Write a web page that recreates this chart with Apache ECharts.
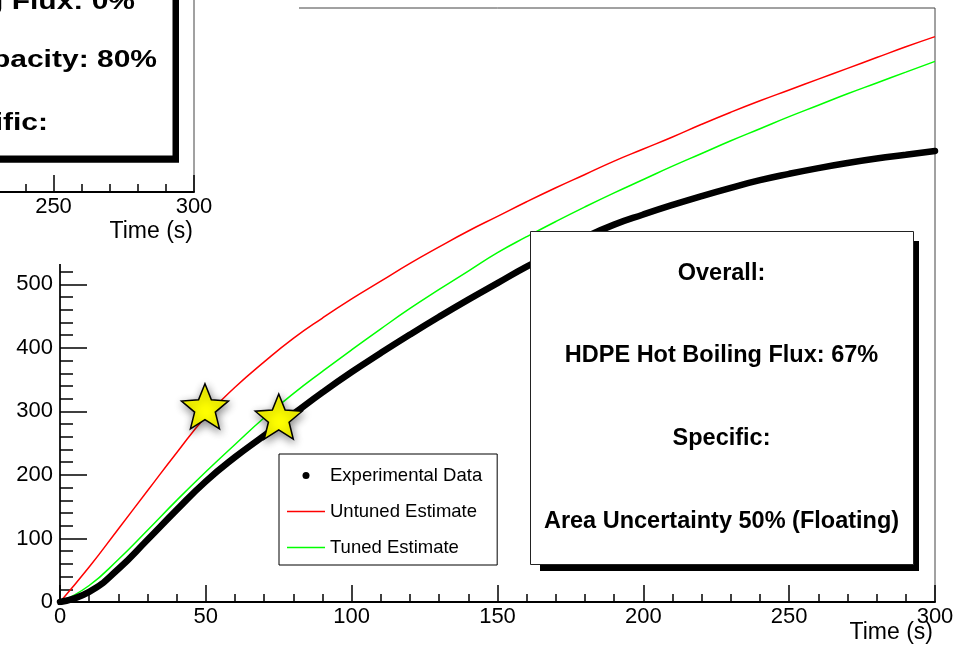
<!DOCTYPE html>
<html>
<head>
<meta charset="utf-8">
<script src="https://cdn.jsdelivr.net/npm/echarts@6/dist/echarts.min.js"></script>
<style>
  html, body { margin: 0; padding: 0; background: #fff; }
  #chart { width: 963px; height: 655px; }
</style>
</head>
<body>
<div id="chart"></div>
<script>
// values (time in s)
const timeS = [0, 10, 20, 30, 40, 50, 60, 70, 80, 90, 100, 110, 120, 130, 140, 150,
    160, 170, 180, 190, 200, 210, 220, 230, 240, 250, 260, 270, 280, 290, 300];
const experimental = [0, 16, 52, 98, 145, 190, 228, 262, 296, 330, 362, 392, 421, 449, 476, 502,
    528, 551, 574, 594, 610, 625, 639, 652, 664, 674, 683, 691, 698, 704, 710];
const untuned = [0, 55, 115, 175, 235, 292, 338, 378, 415, 447, 477, 505, 533, 559, 584, 607,
    630, 652, 673, 694, 713, 732, 752, 771, 789, 806, 823, 840, 857, 874, 890];
const tuned = [0, 26, 67, 113, 160, 205, 248, 290, 328, 363, 397, 430, 462, 492, 521, 550,
    575, 599, 622, 644, 665, 686, 706, 726, 745, 764, 782, 800, 817, 834, 851];
const starTimes = [49.7, 75];
const starValues = [308, 292];

const legendNames = ["Experimental Data", "Untuned Estimate", "Tuned Estimate"];
const boxLines = ["Overall:", "HDPE Hot Boiling Flux: 67%", "Specific:", "Area Uncertainty 50% (Floating)"];
const insetLines = ["HDPE Hot Boiling Flux: 0%", "HDPE Heat Capacity: 80%", "Specific:"];

const font = "'Liberation Sans', Arial, Helvetica, sans-serif";
// five-pointed star, inner radius ~0.44 of outer
const starPath = "path://M100 0 L125.9 64.4 L195.1 69.1 L141.8 113.6 L158.8 180.9 L100 144 L41.2 180.9 L58.2 113.6 L4.9 69.1 L74.1 64.4 Z";
const lineIcon = "path://M0 0 H100 V4 H0 Z";

const pairs = (xs, ys) => xs.map((x, i) => [x, ys[i]]);

const tickStyle = { color: "#000", width: 1.5 };

const chart = echarts.init(document.getElementById("chart"));

const boxCenters = [274, 356, 438.5, 521.5];
const graphics = [
    // inset pad covers the top-left corner
    { type: "rect", z: 10, shape: { x: 0, y: 0, width: 299, height: 264 }, style: { fill: "#fff" } },
    { type: "rect", z: 11, shape: { x: -20, y: -20, width: 199, height: 182.7 }, style: { fill: "#000" } },
    { type: "rect", z: 12, shape: { x: -20, y: -20, width: 193, height: 176 }, style: { fill: "#fff", stroke: "#000", lineWidth: 1 } },
    { type: "text", z: 13, style: { text: "Time (s)", x: 193, y: 231.5, align: "right", verticalAlign: "middle", font: "23px " + font, fill: "#000" } },
    // main text box
    { type: "rect", z: 11, shape: { x: 540, y: 241, width: 379, height: 330 }, style: { fill: "#000" } },
    { type: "rect", z: 12, shape: { x: 530.5, y: 231.5, width: 383, height: 333 }, style: { fill: "#fff", stroke: "#222", lineWidth: 1 } },
    { type: "text", z: 13, style: { text: "Time (s)", x: 933, y: 633, align: "right", verticalAlign: "middle", font: "23px " + font, fill: "#000" } }
];
boxLines.forEach((t, i) => {
    graphics.push({ type: "text", z: 13, style: { text: t, x: 721.5, y: boxCenters[i], align: "center", verticalAlign: "middle", font: "bold 23.5px " + font, fill: "#000" } });
});
const insetRight = [135, 157, 48];
const insetCenters = [2, 60.5, 123];
insetLines.forEach((t, i) => {
    graphics.push({
        type: "text", z: 13, x: insetRight[i], y: insetCenters[i], scaleX: 1.25,
        style: { text: t, x: 0, y: 0, align: "right", verticalAlign: "middle", font: "bold 24px " + font, fill: "#000" }
    });
});

const option = {
    backgroundColor: "#fff",
    animation: false,
    grid: [
        { left: 60, top: 8, right: 28, bottom: 53, show: true, borderColor: "#444", borderWidth: 1, outerBoundsMode: "none" },
        { left: -87, top: -30, width: 281, height: 222, show: true, borderColor: "#444", borderWidth: 1, z: 20, outerBoundsMode: "none" }
    ],
    xAxis: [
        {
            type: "value", gridIndex: 0, min: 0, max: 300, interval: 50,
            axisLine: { show: true, lineStyle: { color: "#000", width: 2 } },
            axisTick: { show: true, inside: true, length: 17, lineStyle: tickStyle },
            minorTick: { show: true, splitNumber: 5, length: 8, lineStyle: tickStyle },
            axisLabel: { fontSize: 22, color: "#000", margin: 4, fontFamily: font },
            splitLine: { show: false }
        },
        {
            type: "value", gridIndex: 1, min: 200, max: 300, interval: 50, z: 20,
            axisLine: { show: true, lineStyle: { color: "#000", width: 2 } },
            axisTick: { show: true, inside: true, length: 17, lineStyle: tickStyle },
            minorTick: { show: true, splitNumber: 5, length: 8, lineStyle: tickStyle },
            axisLabel: { fontSize: 22, color: "#000", margin: 4, fontFamily: font },
            splitLine: { show: false }
        }
    ],
    yAxis: [
        {
            type: "value", gridIndex: 0, min: 0, max: 935, interval: 100,
            axisLine: { show: true, lineStyle: { color: "#222", width: 2 } },
            axisTick: { show: true, inside: true, length: 27, lineStyle: tickStyle },
            minorTick: { show: true, splitNumber: 5, length: 13, lineStyle: tickStyle },
            axisLabel: {
                fontSize: 22, color: "#000", margin: 7, fontFamily: font,
                formatter: v => (v % 100 === 0 ? String(v) : "")
            },
            splitLine: { show: false }
        },
        { type: "value", gridIndex: 1, min: 0, max: 1, show: false }
    ],
    legend: {
        left: 279, top: 454, orient: "vertical",
        padding: [12, 15, 8, 8], itemGap: 17, itemWidth: 38, itemHeight: 7,
        backgroundColor: "#fff", borderColor: "#000", borderWidth: 1,
        textStyle: { fontSize: 18.5, color: "#000", fontFamily: font },
        data: [
            { name: legendNames[0], icon: "circle" },
            { name: legendNames[1], icon: lineIcon },
            { name: legendNames[2], icon: lineIcon }
        ]
    },
    series: [
        {
            name: legendNames[1], type: "line", data: pairs(timeS, untuned),
            symbol: "none", smooth: true, z: 2,
            lineStyle: { color: "#ff0000", width: 1.5 }, itemStyle: { color: "#ff0000" }
        },
        {
            name: legendNames[2], type: "line", data: pairs(timeS, tuned),
            symbol: "none", smooth: true, z: 2,
            lineStyle: { color: "#00ff00", width: 1.5 }, itemStyle: { color: "#00ff00" }
        },
        {
            name: legendNames[0], type: "line", data: pairs(timeS, experimental),
            symbol: "none", smooth: true, z: 3,
            lineStyle: { color: "#000", width: 6.5, cap: "round" }, itemStyle: { color: "#000" }
        },
        {
            name: "stars", type: "scatter", data: pairs(starTimes, starValues),
            symbol: starPath, symbolSize: [47, 45], z: 4,
            itemStyle: {
                color: "#ffff00", opacity: 1, borderColor: "#000", borderWidth: 1.5,
                shadowBlur: 8, shadowColor: "rgba(0,0,0,0.45)", shadowOffsetX: 1, shadowOffsetY: 3
            }
        }
    ],
    graphic: graphics
};

chart.setOption(option);
</script>
</body>
</html>
